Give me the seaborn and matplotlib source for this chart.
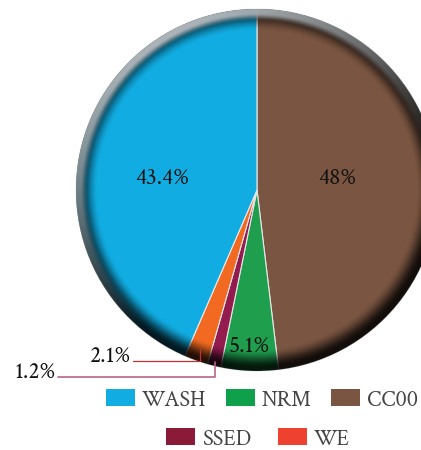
import numpy as np
import matplotlib
matplotlib.use("Agg")
import matplotlib.pyplot as plt
import seaborn as sns
from matplotlib.patches import Circle, Patch

categories = ["CC00", "NRM", "SSED", "WE", "WASH"]
values = [48.0, 5.1, 1.2, 2.1, 43.4]
labels = ["48%", "5.1%", "1.2%", "2.1%", "43.4%"]
colors = ["#7a5541", "#1f9e4e", "#941b4e", "#f26a21", "#11ade2"]
legend_row1 = ["WASH", "NRM", "CC00"]
legend_row2 = ["SSED", "WE"]
legend_colors = {"WASH": "#11ade2", "NRM": "#0fa04b", "CC00": "#7a5541",
                 "SSED": "#8b1a38", "WE": "#ee4130"}

sns.set_theme(style="white")
plt.rcParams["font.family"] = ["Crimson Text", "Liberation Serif", "DejaVu Serif"]

W, H = 421, 450
fig = plt.figure(figsize=(W / 100, H / 100), dpi=100)
ax = fig.add_axes([0, 0, 1, 1])

cx, cy, R = 257, 450 - 190, 181
palette = sns.color_palette(colors)
wedges, _ = ax.pie(values, colors=palette, startangle=90, counterclock=False,
                   center=(cx, cy), radius=R, frame=True,
                   wedgeprops=dict(edgecolor="#e8e8e8", linewidth=0.8))

# bevel shading
n = 400
xs = np.linspace(-1, 1, n)
X, Y = np.meshgrid(xs, xs[::-1])
rho = np.sqrt(X ** 2 + Y ** 2)
theta = np.degrees(np.arctan2(Y, X))
L = np.cos(np.radians(theta - 120))

def smooth(a, b, x):
    t = np.clip((x - a) / (b - a), 0, 1)
    return t * t * (3 - 2 * t)

shadow = np.zeros((n, n, 4))
shadow[..., 3] = 0.85 * smooth(0.88, 0.985, rho) * (1 - 0.15 * np.clip(L, 0, 1))
hl = np.zeros((n, n, 4))
hl[..., 0], hl[..., 1], hl[..., 2] = 0.68, 0.71, 0.73
hl[..., 3] = np.clip((L + 0.35) / 1.35, 0, 1) * smooth(0.935, 0.98, rho)
for img in (shadow, hl):
    im = ax.imshow(img, extent=(cx - R, cx + R, cy - R, cy + R), zorder=3,
                   interpolation="bilinear")
    im.set_clip_path(Circle((cx, cy), R, transform=ax.transData))

ax.set_xlim(0, W)
ax.set_ylim(0, H)
ax.set_aspect("equal")
ax.axis("off")

total = sum(values)
cum = np.cumsum([0] + values)
mids = {c: (cum[i] + values[i] / 2) / total * 360 for i, c in enumerate(categories)}

def pt(cat, frac):
    a = np.radians(mids[cat])
    return cx + frac * R * np.sin(a), cy + frac * R * np.cos(a)

fs = 17
ax.text(162, 450 - 178, "43.4%", ha="center", va="center", fontsize=fs, color="#111", zorder=5)
ax.text(337, 450 - 178, "48%", ha="center", va="center", fontsize=fs, color="#111", zorder=5)
ax.text(249, 450 - 347, "5.1%", ha="center", va="center", fontsize=fs, color="#111", zorder=5)

# leader lines
x1, y1 = pt("WE", 0.93)
ax.plot([x1, x1, 133], [y1, 450 - 361, 450 - 361], color="#c0303a", lw=0.9, zorder=5)
ax.text(131, 450 - 357, "2.1%", ha="right", va="center", fontsize=fs, color="#111", zorder=5)
x2, y2 = pt("SSED", 0.98)
ax.plot([x2, x2, 58], [y2, 450 - 377, 450 - 377], color="#b8648a", lw=1.2, zorder=5)
ax.text(56, 450 - 373, "1.2%", ha="right", va="center", fontsize=fs, color="#111", zorder=5)

# legends
def handles(names):
    return [Patch(facecolor=legend_colors[nm], edgecolor="none", label=nm) for nm in names]

lfs = 16
leg1 = ax.legend(handles=handles(legend_row1), ncol=3, loc="center",
                 bbox_to_anchor=(262 / W, 1 - 400 / H), frameon=False,
                 fontsize=lfs, handlelength=1.3, handleheight=0.8,
                 handletextpad=0.3, columnspacing=0.9, labelcolor="#444")
ax.add_artist(leg1)
leg2 = ax.legend(handles=handles(legend_row2), ncol=2, loc="center",
                 bbox_to_anchor=(258 / W, 1 - 439 / H), frameon=False,
                 fontsize=lfs, handlelength=1.3, handleheight=0.8,
                 handletextpad=0.3, columnspacing=1.2, labelcolor="#444")

fig.savefig("out.png", dpi=100)
